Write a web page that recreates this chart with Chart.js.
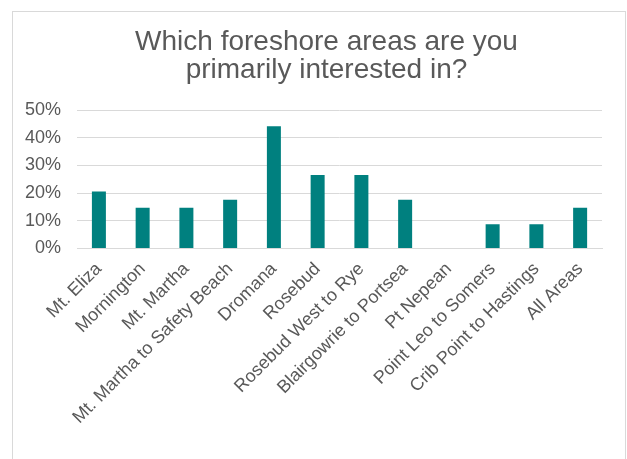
<!DOCTYPE html>
<html>
<head>
<meta charset="utf-8">
<script src="https://cdn.jsdelivr.net/npm/chart.js@4/dist/chart.umd.min.js"></script>
<style>
    body { margin: 0; background: #ffffff; }
    #caixa { position: absolute; left: 0; top: 0; width: 627px; height: 459px; }
</style>
</head>
<body>
<div id="caixa"><canvas id="chartAreas"></canvas></div>
<script>
var areas = ['Mt. Eliza', 'Mornington', 'Mt. Martha', 'Mt. Martha to Safety Beach', 'Dromana', 'Rosebud',
    'Rosebud West to Rye', 'Blairgowrie to Portsea', 'Pt Nepean', 'Point Leo to Somers', 'Crib Point to Hastings', 'All Areas'];
var percentuais = [20.6, 14.7, 14.7, 17.6, 44.1, 26.5, 26.5, 17.6, 0, 8.8, 8.8, 14.7];
var ticksY = [0, 10, 20, 30, 40, 50];
var titulo = ['Which foreshore areas are you', 'primarily interested in?'];

var corTexto = '#595959';

// moldura cinza em volta do grafico, igual ao print do Excel
var moldura = {
    id: 'moldura',
    beforeDraw: function (chart) {
        var ctx = chart.ctx;
        ctx.save();
        ctx.fillStyle = '#ffffff';
        ctx.fillRect(0, 0, chart.width, chart.height);
        ctx.strokeStyle = '#d9d9d9';
        ctx.lineWidth = 1;
        ctx.strokeRect(12.5, 11.5, 613, 470);
        ctx.restore();
    }
};

// o titulo no original fica um pouco a direita do centro do canvas
var ajusteTitulo = {
    id: 'ajusteTitulo',
    afterLayout: function (chart) {
        chart.titleBlock.left += 21;
        chart.titleBlock.right += 21;
    }
};

function plotarGrafico() {
    let dados = {
        labels: areas,
        datasets: [{
            label: 'Respostas',
            data: percentuais,
            backgroundColor: '#00807f',
            borderWidth: 0,
            barPercentage: 0.32,
            categoryPercentage: 1
        }]
    };

    const config = {
        type: 'bar',
        data: dados,
        options: {
            responsive: true,
            maintainAspectRatio: false,
            animation: false,
            layout: {
                // o eixo y ja soma o padding dos ticks dos dois lados
                padding: { left: 9, right: 25, top: 0, bottom: 29 }
            },
            scales: {
                x: {
                    grid: { display: false },
                    border: { color: '#d9d9d9' },
                    ticks: {
                        color: corTexto,
                        maxRotation: 45,
                        minRotation: 45,
                        autoSkip: false,
                        padding: 2,
                        font: { family: 'Liberation Sans', size: 18 }
                    },
                    // os rotulos inclinados nao devem empurrar a area do grafico
                    afterFit: function (eixo) {
                        eixo.paddingLeft = 0;
                        eixo.paddingRight = 0;
                    }
                },
                y: {
                    min: 0,
                    max: 50,
                    afterBuildTicks: function (eixo) {
                        eixo.ticks = ticksY.map(v => ({ value: v }));
                    },
                    grid: { color: '#d9d9d9', drawTicks: false },
                    border: { display: false },
                    ticks: {
                        color: corTexto,
                        padding: 16,
                        font: { family: 'Liberation Sans', size: 18 },
                        callback: function (valor) { return valor + '%'; }
                    }
                }
            },
            plugins: {
                legend: { display: false },
                tooltip: { enabled: false },
                title: {
                    display: true,
                    text: titulo,
                    color: corTexto,
                    padding: { top: 28, bottom: 26 },
                    font: { family: 'Liberation Sans', size: 28, weight: 'normal', lineHeight: 1.0 }
                }
            }
        },
        plugins: [moldura, ajusteTitulo]
    };

    let chartAreas = new Chart(document.getElementById('chartAreas'), config);
}

plotarGrafico();
</script>
</body>
</html>
